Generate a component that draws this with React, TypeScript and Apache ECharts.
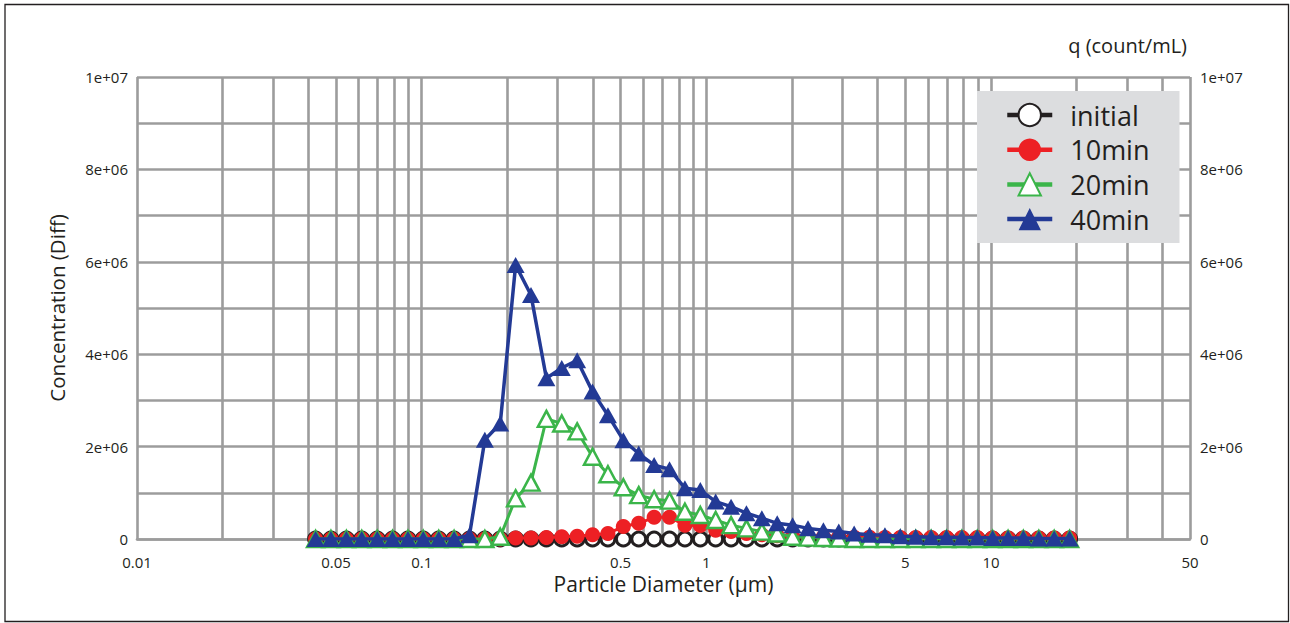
import React, { useEffect, useRef } from "react";
import * as echarts from "echarts";

// Particle diameters (µm), evenly spaced on the log scale
const diameters = [
  0.0424, 0.0480, 0.0544, 0.0616, 0.0698, 0.0790, 0.0895, 0.1013, 0.1148, 0.1300,
  0.1472, 0.1667, 0.1888, 0.2138, 0.2421, 0.2742, 0.3105, 0.3517, 0.3983, 0.4511,
  0.5110, 0.5787, 0.6555, 0.7424, 0.8408, 0.9522, 1.0784, 1.2214, 1.3832, 1.5666,
  1.7742, 2.0091, 2.2757, 2.5777, 2.9190, 3.3058, 3.7437, 4.2400, 4.8017, 5.4387,
  6.1603, 6.9776, 7.9010, 8.9484, 10.13, 11.48, 12.99, 14.72, 16.67, 18.88,
];

const initial = [
  0, 0, 0, 0, 0, 0, 0, 0, 0, 0,
  0, 0, 0, 0, 0, 0, 0, 0, 0, 0,
  0, 0, 0, 0, 0, 0, 0, 0, 0, 0,
  0, 0, 0, 0, 0, 0, 0, 0, 0, 0,
  0, 0, 0, 0, 0, 0, 0, 0, 0, 0,
];

const min10 = [
  0, 0, 0, 0, 0, 0, 0, 0, 0, 0,
  0, 0, 0, 20000, 20000, 30000, 50000, 60000, 90000, 120000,
  270000, 340000, 470000, 470000, 300000, 290000, 190000, 160000, 120000, 90000,
  70000, 60000, 50000, 50000, 40000, 40000, 40000, 30000, 30000, 30000,
  30000, 30000, 30000, 30000, 20000, 20000, 20000, 20000, 20000, 20000,
];

const min20 = [
  0, 0, 0, 0, 0, 0, 0, 0, 0, 0,
  0, 0, 50000, 880000, 1220000, 2600000, 2500000, 2330000, 1780000, 1400000,
  1120000, 950000, 860000, 830000, 590000, 520000, 410000, 300000, 230000, 160000,
  120000, 50000, 30000, 20000, 10000, 0, 0, 0, 0, 0,
  0, 0, 0, 0, 0, 0, 0, 0, 0, 0,
];

const min40 = [
  0, 0, 0, 0, 0, 0, 0, 0, 0, 0,
  80000, 2150000, 2500000, 5930000, 5280000, 3480000, 3700000, 3870000, 3190000, 2680000,
  2140000, 1850000, 1600000, 1510000, 1100000, 1060000, 810000, 700000, 560000, 450000,
  340000, 300000, 230000, 190000, 160000, 120000, 90000, 80000, 60000, 50000,
  40000, 40000, 30000, 30000, 20000, 20000, 20000, 10000, 10000, 10000,
];

const seriesNames = ["initial", "10min", "20min", "40min"];

const xTickValues = [0.01, 0.05, 0.1, 0.5, 1, 5, 10, 50];
const xTickLabels = ["0.01", "0.05", "0.1", "0.5", "1", "5", "10", "50"];
const yTickLabels = ["0", "2e+06", "4e+06", "6e+06", "8e+06", "1e+07"];

const gridX = [
  0.01, 0.02, 0.03, 0.04, 0.05, 0.06, 0.07, 0.08, 0.09,
  0.1, 0.2, 0.3, 0.4, 0.5, 0.6, 0.7, 0.8, 0.9,
  1, 2, 3, 4, 5, 6, 7, 8, 9,
  10, 20, 30, 40, 50,
];

const FONT = "'Open Sans', 'Noto Sans', sans-serif";
const TEXT = "#231f20";
const GRID = "#9c9c9c";
const GRID_W = 2.6;

export default function App() {
  const ref = useRef<HTMLDivElement>(null);

  useEffect(() => {
    if (!ref.current) return;
    const chart = echarts.init(ref.current, undefined, { renderer: "svg" });

    const pairs = (vals: number[]) => diameters.map((d, i) => [d, vals[i]]);

    const yFormatter = (v: number) => {
      const k = Math.round(v / 2e6);
      return Math.abs(v - k * 2e6) < 1 ? yTickLabels[k] ?? "" : "";
    };

    const option: any = {
      animation: false,
      textStyle: { fontFamily: FONT },
      title: {
        text: "q (count/mL)",
        right: 98,
        top: 30,
        textStyle: { fontSize: 20, fontWeight: "normal", color: TEXT, fontFamily: FONT },
      },
      graphic: [
        {
          type: "rect",
          shape: { x: 5, y: 4.5, width: 1283.5, height: 617 },
          style: { fill: "none", stroke: TEXT, lineWidth: 1.3 },
          silent: true,
          z: 100,
        },
      ],
      legend: {
        orient: "vertical",
        left: 977,
        top: 91,
        padding: [10, 30, 10, 28],
        backgroundColor: "#dcdddf",
        itemWidth: 45,
        itemHeight: 28,
        itemGap: 6.7,
        selectedMode: false,
        data: seriesNames,
        lineStyle: { width: 4.5 },
        textStyle: {
          fontSize: 27,
          lineHeight: 28,
          color: TEXT,
          fontFamily: FONT,
          padding: [0, 0, 0, 13],
        },
      },
      grid: { left: 137, right: 100, top: 77, bottom: 84, containLabel: false },
      xAxis: {
        type: "log",
        logBase: 10,
        min: 0.01,
        max: 50,
        name: "Particle Diameter (µm)",
        nameLocation: "middle",
        nameGap: 34,
        nameTextStyle: { fontSize: 21, color: TEXT, fontFamily: FONT },
        axisLine: { show: true, lineStyle: { color: GRID, width: GRID_W } },
        axisTick: { show: false, customValues: xTickValues },
        splitLine: { show: false },
        axisLabel: {
          customValues: xTickValues,
          fontSize: 15,
          color: TEXT,
          margin: 15,
          fontFamily: FONT,
          formatter: (v: number) => {
            const idx = xTickValues.findIndex((t) => Math.abs(t - v) / t < 1e-6);
            return idx >= 0 ? xTickLabels[idx] : "";
          },
        },
      },
      yAxis: [
        {
          type: "value",
          min: 0,
          max: 1e7,
          interval: 1e6,
          name: "Concentration (Diff)",
          nameLocation: "middle",
          nameGap: 70,
          nameTextStyle: { fontSize: 20.5, color: TEXT, fontFamily: FONT },
          axisLine: { show: false },
          axisTick: { show: false },
          splitLine: { show: true, lineStyle: { color: GRID, width: GRID_W } },
          axisLabel: { fontSize: 15, color: TEXT, margin: 9, fontFamily: FONT, formatter: yFormatter },
        },
        {
          type: "value",
          position: "right",
          min: 0,
          max: 1e7,
          interval: 1e6,
          axisLine: { show: false },
          axisTick: { show: false },
          splitLine: { show: false },
          axisLabel: { fontSize: 15, color: TEXT, margin: 10, fontFamily: FONT, formatter: yFormatter },
        },
      ],
      series: [
        {
          name: seriesNames[0],
          type: "line",
          data: pairs(initial),
          symbol: "circle",
          symbolSize: 14,
          lineStyle: { color: TEXT, width: 3 },
          itemStyle: { color: "#ffffff", borderColor: TEXT, borderWidth: 3 },
          z: 2,
          markLine: {
            silent: true,
            z: 1,
            symbol: ["none", "none"],
            label: { show: false },
            lineStyle: { color: GRID, width: GRID_W, type: "solid" },
            emphasis: { disabled: true },
            data: gridX.map((v) => ({ xAxis: v })),
          },
        },
        {
          name: seriesNames[1],
          type: "line",
          data: pairs(min10),
          symbol: "circle",
          symbolSize: 15,
          lineStyle: { color: "#ed2024", width: 3 },
          itemStyle: { color: "#ed2024" },
          z: 3,
        },
        {
          name: seriesNames[2],
          type: "line",
          data: pairs(min20),
          symbol: "triangle",
          symbolSize: [17, 16],
          lineStyle: { color: "#3bb54a", width: 3 },
          itemStyle: { color: "#ffffff", borderColor: "#3bb54a", borderWidth: 2.5 },
          z: 4,
        },
        {
          name: seriesNames[3],
          type: "line",
          data: pairs(min40),
          symbol: "triangle",
          symbolSize: [18, 16],
          lineStyle: { color: "#233a95", width: 3.5 },
          itemStyle: { color: "#233a95" },
          z: 5,
        },
      ],
    };

    chart.setOption(option);
    return () => chart.dispose();
  }, []);

  return (
    <div
      ref={ref}
      style={{ position: "fixed", left: 0, top: 0, width: 1290, height: 623, background: "#ffffff" }}
    />
  );
}
